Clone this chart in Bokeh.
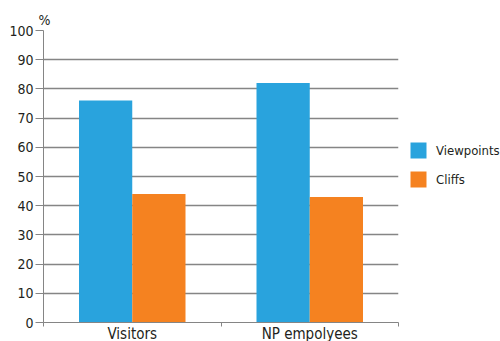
import numpy as np
from bokeh.plotting import figure
from bokeh.models import (ColumnDataSource, Range1d, FixedTicker, Title,
                          Legend, LegendItem)
from bokeh.embed import file_html
from bokeh.resources import INLINE

# Share of respondents (%) preferring each landscape feature
categories = ["Visitors", "NP empolyees"]
viewpoints = [76, 82]
cliffs = [44, 43]
series_names = ["Viewpoints", "Cliffs"]
y_ticks = list(range(0, 101, 10))

FONT = "DejaVu Sans Condensed"
TEXT = "#231f20"
GRID = "#858585"
BLUE = "#29a3dd"
ORANGE = "#f58220"

n = len(categories)
centers = np.arange(n) + 0.5
bar_w = 0.3

src = ColumnDataSource(dict(
    cat=categories,
    xv=centers - bar_w / 2,
    xc=centers + bar_w / 2,
    viewpoints=viewpoints,
    cliffs=cliffs,
))

p = figure(frame_width=355, frame_height=292,
           x_range=Range1d(0, n), y_range=Range1d(0, 100),
           output_backend="svg", toolbar_location=None,
           min_border_left=43, min_border_right=102,
           min_border_top=30, min_border_bottom=19)
p.outline_line_color = None
p.background_fill_color = "white"
p.border_fill_color = "white"

r1 = p.vbar(x="xv", top="viewpoints", width=bar_w, source=src,
            fill_color=BLUE, line_color=None)
r2 = p.vbar(x="xc", top="cliffs", width=bar_w, source=src,
            fill_color=ORANGE, line_color=None)

# x axis: labels at group centres, short ticks at group boundaries
xa = p.xaxis[0]
xa.ticker = FixedTicker(ticks=list(centers), minor_ticks=list(range(n + 1)))
xa.major_label_overrides = {float(c): lab for c, lab in zip(centers, categories)}
xa.major_tick_out = 0
xa.major_tick_in = 0
xa.minor_tick_out = 4
xa.minor_tick_in = 0
xa.minor_tick_line_color = GRID
xa.axis_line_color = GRID
xa.major_label_standoff = -2
xa.major_label_text_font = FONT
xa.major_label_text_font_size = "15px"
xa.major_label_text_color = TEXT

ya = p.yaxis[0]
ya.ticker = FixedTicker(ticks=y_ticks)
ya.major_tick_out = 8
ya.major_tick_in = 0
ya.minor_tick_out = 0
ya.minor_tick_in = 0
ya.major_tick_line_color = GRID
ya.axis_line_color = GRID
ya.major_label_standoff = 2
ya.major_label_text_font = FONT
ya.major_label_text_font_size = "14px"
ya.major_label_text_color = TEXT

p.xgrid.grid_line_color = None
p.ygrid.ticker = FixedTicker(ticks=y_ticks)
p.ygrid.grid_line_color = GRID
p.ygrid.grid_line_width = 1.3

p.add_layout(Title(text="%", align="left", offset=-5, standoff=5,
                   text_font=FONT, text_font_size="14px",
                   text_font_style="normal", text_color=TEXT), "above")

legend = Legend(items=[LegendItem(label=series_names[0], renderers=[r1]),
                       LegendItem(label=series_names[1], renderers=[r2])],
                location=(10, 133), orientation="vertical",
                glyph_width=20, glyph_height=20, label_height=20,
                label_standoff=8, spacing=9, padding=0, margin=0,
                border_line_color=None, background_fill_alpha=0,
                label_text_font=FONT, label_text_font_size="13px",
                label_text_color=TEXT)
p.add_layout(legend, "right")

open("out.html", "w").write(file_html(p, INLINE))
